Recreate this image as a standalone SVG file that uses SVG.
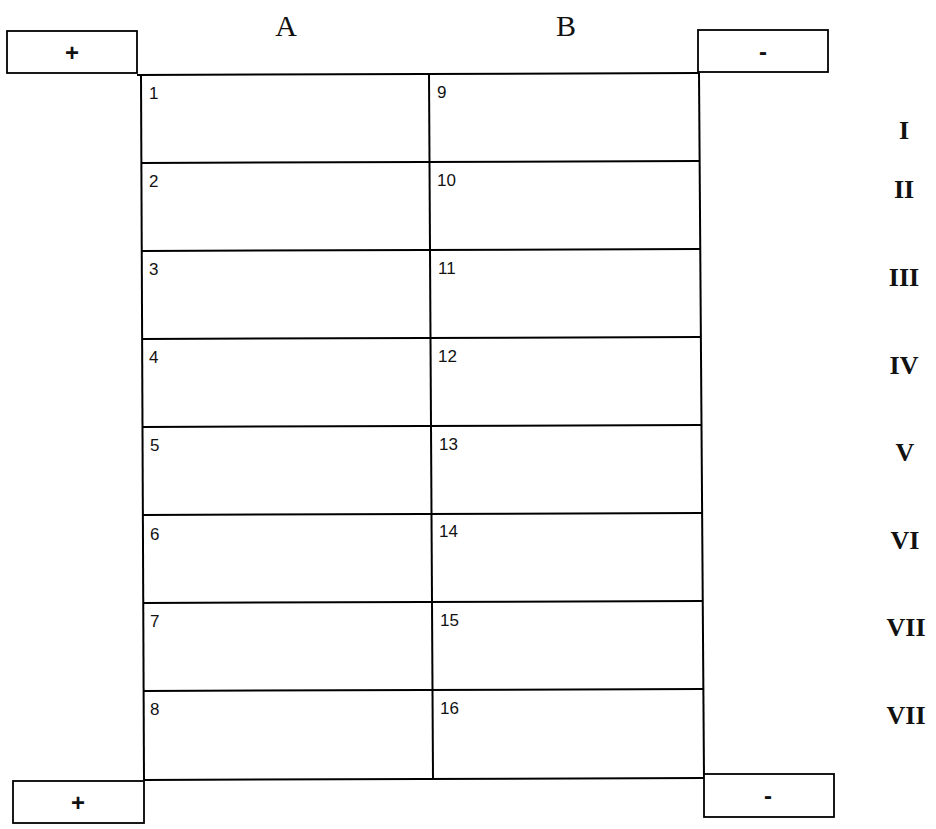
<svg xmlns="http://www.w3.org/2000/svg" width="936" height="829" viewBox="0 0 936 829">
<style>
.ln{stroke:#000;stroke-width:2;fill:none}
.box{stroke:#000;stroke-width:1.8;fill:#fff}
.num{font-family:"Liberation Sans",Arial,sans-serif;font-size:17px;fill:#111}
.col{font-family:"Liberation Serif","Times New Roman",serif;font-size:30px;fill:#111;text-anchor:middle}
.rom{font-family:"Liberation Serif","Times New Roman",serif;font-size:26px;font-weight:bold;fill:#111;text-anchor:middle}
.sign{font-family:"Liberation Sans",Arial,sans-serif;font-size:24px;font-weight:bold;fill:#111;text-anchor:middle}
</style>
<rect width="936" height="829" fill="#fff"/>
<g id="connectors">
<line class="ln" x1="141" y1="75" x2="144" y2="780"/>
<line class="ln" x1="429" y1="74" x2="433" y2="779"/>
<line class="ln" x1="699" y1="73" x2="704" y2="778"/>
<line class="ln" x1="137" y1="75" x2="699" y2="73"/>
<line class="ln" x1="141" y1="163" x2="699" y2="161"/>
<line class="ln" x1="142" y1="251" x2="700" y2="249"/>
<line class="ln" x1="142" y1="339" x2="701" y2="337"/>
<line class="ln" x1="142" y1="427" x2="701" y2="425"/>
<line class="ln" x1="143" y1="515" x2="702" y2="513"/>
<line class="ln" x1="143" y1="603" x2="703" y2="601"/>
<line class="ln" x1="143" y1="691" x2="703" y2="689"/>
<line class="ln" x1="144" y1="780" x2="704" y2="778"/>
</g>
<g id="plus-top"><rect class="box" x="7" y="31" width="130" height="42"/><text class="sign" x="72" y="61">+</text></g>
<g id="minus-top"><rect class="box" x="698" y="30" width="130" height="42"/><text class="sign" x="763" y="60">-</text></g>
<g id="plus-bottom"><rect class="box" x="13" y="781" width="131" height="42"/><text class="sign" x="78" y="811">+</text></g>
<g id="minus-bottom"><rect class="box" x="704" y="774" width="130" height="43"/><text class="sign" x="768" y="804">-</text></g>
<g id="colA"><text class="col" x="286" y="36">A</text></g>
<g id="colB"><text class="col" x="566" y="36">B</text></g>
<g id="cells">
<g id="c1"><text class="num" x="149" y="99">1</text></g>
<g id="c2"><text class="num" x="149" y="187">2</text></g>
<g id="c3"><text class="num" x="149" y="275">3</text></g>
<g id="c4"><text class="num" x="149" y="363">4</text></g>
<g id="c5"><text class="num" x="150" y="451">5</text></g>
<g id="c6"><text class="num" x="150" y="540">6</text></g>
<g id="c7"><text class="num" x="150" y="627">7</text></g>
<g id="c8"><text class="num" x="150" y="715">8</text></g>
<g id="c9"><text class="num" x="437" y="98">9</text></g>
<g id="c10"><text class="num" x="437" y="186">10</text></g>
<g id="c11"><text class="num" x="438" y="274">11</text></g>
<g id="c12"><text class="num" x="438" y="362">12</text></g>
<g id="c13"><text class="num" x="439" y="450">13</text></g>
<g id="c14"><text class="num" x="439" y="537">14</text></g>
<g id="c15"><text class="num" x="440" y="626">15</text></g>
<g id="c16"><text class="num" x="440" y="714">16</text></g>
</g>
<g id="rows">
<text class="rom" x="904" y="139">I</text>
<text class="rom" x="904" y="198">II</text>
<text class="rom" x="904" y="286">III</text>
<text class="rom" x="904" y="374">IV</text>
<text class="rom" x="905" y="461">V</text>
<text class="rom" x="905" y="549">VI</text>
<text class="rom" x="906" y="636">VII</text>
<text class="rom" x="906" y="724">VII</text>
</g>
</svg>
